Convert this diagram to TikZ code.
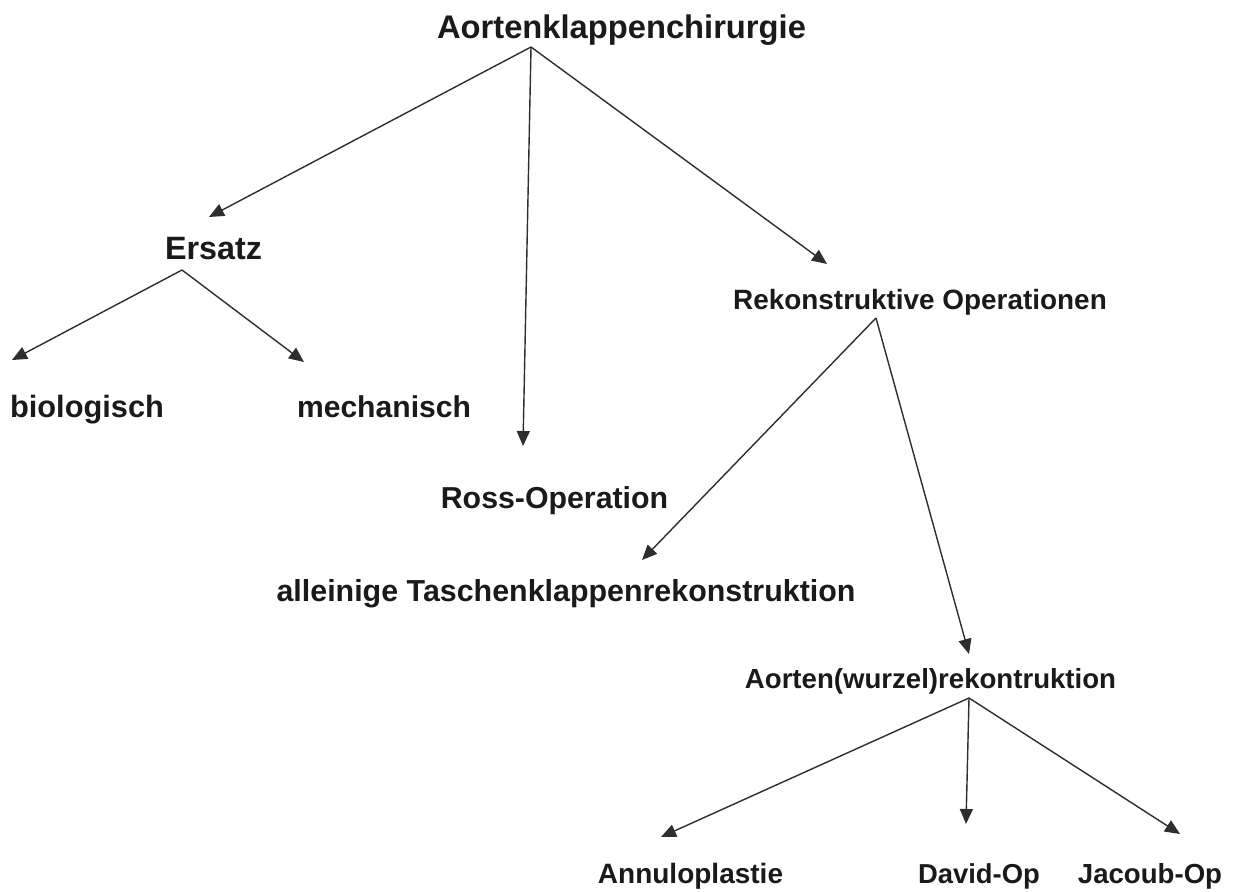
\documentclass[tikz,border=0pt]{standalone}
\usepackage{fontspec}
\setmainfont{Liberation Sans}
\usetikzlibrary{arrows.meta}
\definecolor{ink}{HTML}{1A1A1A}
\definecolor{linec}{HTML}{2E2E2E}
\tikzset{
  lbl/.style={inner sep=0pt, anchor=base, text=ink, font=\bfseries\fontsize{#1}{#1}\selectfont},
  arr/.style={draw=linec, line width=1.4pt, -{Triangle[length=15pt,width=13pt]}},
}
\begin{document}
\begin{tikzpicture}[x=1pt,y=-1pt]
\useasboundingbox[fill=white] (0,0) rectangle (1236,891);
% nodes
\node[lbl=32.7] (top) at (621.5,38) {Aortenklappenchirurgie};
\node[lbl=32.3] (ers) at (213.5,259) {Ersatz};
\node[lbl=30.8] (bio) at (87,417) {biologisch};
\node[lbl=30.1] (mech) at (384,417) {mechanisch};
\node[lbl=30.3] (ross) at (554.5,508) {Ross-Operation};
\node[lbl=27.9] (rek) at (920,309) {Rekonstruktive Operationen};
\node[lbl=30.4] (all) at (566,601) {alleinige Taschenklappenrekonstruktion};
\node[lbl=27.6] (aw) at (930.5,688) {Aorten(wurzel)rekontruktion};
\node[lbl=28] (ann) at (690.5,883) {Annuloplastie};
\node[lbl=27.4] (dav) at (979,883) {David-Op};
\node[lbl=27.6] (jac) at (1150,883) {Jacoub-Op};
% connector points
\coordinate (s-top) at (531,47);
\coordinate (t-ers) at (209,217);
\coordinate (t-ross) at (523,446);
\coordinate (t-rek) at (827,264);
\coordinate (s-ers) at (182,270);
\coordinate (t-bio) at (12,360);
\coordinate (t-mech) at (304,362);
\coordinate (s-rek) at (876,318);
\coordinate (t-all) at (642,560);
\coordinate (t-aw) at (969,654);
\coordinate (s-aw) at (969,698);
\coordinate (t-ann) at (661,837);
\coordinate (t-dav) at (966,824);
\coordinate (t-jac) at (1180,834);
% connectors
\draw[arr] (s-top) -- (t-ers);
\draw[arr] (s-top) -- (t-ross);
\draw[arr] (s-top) -- (t-rek);
\draw[arr] (s-ers) -- (t-bio);
\draw[arr] (s-ers) -- (t-mech);
\draw[arr] (s-rek) -- (t-all);
\draw[arr] (s-rek) -- (t-aw);
\draw[arr] (s-aw) -- (t-ann);
\draw[arr] (s-aw) -- (t-dav);
\draw[arr] (s-aw) -- (t-jac);
\end{tikzpicture}
\end{document}
